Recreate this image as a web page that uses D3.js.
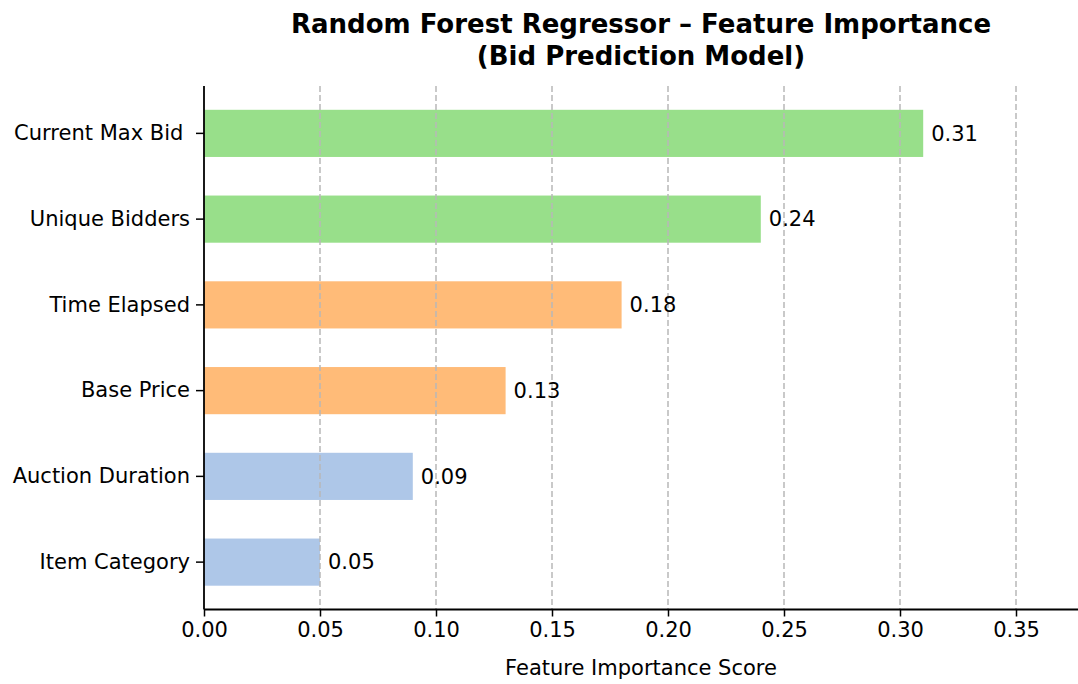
<!DOCTYPE html>
<html>
<head>
<meta charset="utf-8">
<script src="https://cdn.jsdelivr.net/npm/d3@7"></script>
<style>
  body { margin: 0; background: #fff; }
  svg text { font-family: "DejaVu Sans", sans-serif; }
</style>
</head>
<body>
<div id="chart"></div>
<script>
const features = ["Current Max Bid ", "Unique Bidders", "Time Elapsed", "Base Price", "Auction Duration", "Item Category"];
const importance = [0.31, 0.24, 0.18, 0.13, 0.09, 0.05];
const barColors = ["#98df8a", "#98df8a", "#ffbb78", "#ffbb78", "#aec7e8", "#aec7e8"];
const xTicks = [0, 0.05, 0.10, 0.15, 0.20, 0.25, 0.30, 0.35];

const width = 1078, height = 684;
const margin = { top: 86, right: 0, bottom: 74.5, left: 204 };
const innerW = width - margin.left - margin.right;
const innerH = height - margin.top - margin.bottom;

const svg = d3.select("#chart").append("svg")
    .attr("width", width)
    .attr("height", height);

const x = d3.scaleLinear()
    .domain([0, innerW / 2320])
    .range([0, innerW]);

const y = d3.scaleBand()
    .domain(features)
    .range([0, innerH])
    .paddingInner(0.45)
    .paddingOuter(0.2775);

const g = svg.append("g")
    .attr("transform", `translate(${margin.left},${margin.top})`);

// bars
g.selectAll("rect.bar")
    .data(features)
    .enter().append("rect")
    .attr("class", "bar")
    .attr("x", 0)
    .attr("y", d => y(d))
    .attr("width", (d, i) => x(importance[i]))
    .attr("height", y.bandwidth())
    .attr("fill", (d, i) => barColors[i]);

// dashed grid, on top of bars
g.selectAll("line.grid")
    .data(xTicks.slice(1))
    .enter().append("line")
    .attr("class", "grid")
    .attr("x1", d => x(d)).attr("x2", d => x(d))
    .attr("y1", 0).attr("y2", innerH)
    .attr("stroke", "#b8b8b8")
    .attr("stroke-width", 1.5)
    .attr("stroke-dasharray", "6,3");

// value labels
g.selectAll("text.val")
    .data(features)
    .enter().append("text")
    .attr("class", "val")
    .attr("x", (d, i) => x(importance[i]) + 8)
    .attr("y", d => y(d) + y.bandwidth() / 2)
    .attr("dy", "0.35em")
    .style("font-size", "21px")
    .attr("fill", "#000")
    .text((d, i) => importance[i].toFixed(2));

// axes
const xAxis = d3.axisBottom(x)
    .tickValues(xTicks)
    .tickFormat(d3.format(".2f"))
    .tickSize(7)
    .tickPadding(6);

const xg = g.append("g")
    .attr("transform", `translate(0,${innerH})`)
    .call(xAxis);
xg.select(".domain").attr("stroke-width", 1.8).attr("d", `M0,0H${innerW}`);
xg.selectAll(".tick line").attr("stroke-width", 1.5);
xg.selectAll("text").style("font-size", "21px").attr("fill", "#000");

const yAxis = d3.axisLeft(y)
    .tickSize(8)
    .tickPadding(6);

const yg = g.append("g").call(yAxis);
yg.select(".domain").attr("stroke-width", 1.8).attr("d", `M0,0V${innerH}`);
yg.selectAll(".tick line").attr("stroke-width", 1.5);
yg.selectAll("text")
    .style("font-size", "21px")
    .style("white-space", "pre")
    .attr("fill", "#000");

// axis label
svg.append("text")
    .attr("x", margin.left + innerW / 2)
    .attr("y", 675)
    .attr("text-anchor", "middle")
    .style("font-size", "21px")
    .text("Feature Importance Score");

// title
const title = svg.append("text")
    .attr("x", margin.left + innerW / 2)
    .attr("text-anchor", "middle")
    .style("font-size", "26px")
    .style("font-weight", "bold");
title.append("tspan").attr("x", margin.left + innerW / 2).attr("y", 33)
    .text("Random Forest Regressor – Feature Importance");
title.append("tspan").attr("x", margin.left + innerW / 2).attr("y", 65)
    .text("(Bid Prediction Model)");
</script>
</body>
</html>
